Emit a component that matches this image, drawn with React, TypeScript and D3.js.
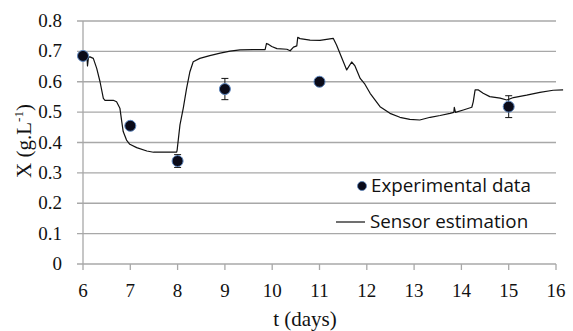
import { line, scaleLinear } from "d3";

const xTicks = [6, 7, 8, 9, 10, 11, 12, 13, 14, 15, 16];
const yTicks = [0, 0.1, 0.2, 0.3, 0.4, 0.5, 0.6, 0.7, 0.8];

const expDays = [6, 7, 8, 9, 11, 15];
const expValues = [0.685, 0.455, 0.339, 0.576, 0.6, 0.518];
const expErrors = [0.01, 0.01, 0.021, 0.035, 0.01, 0.036];

const sensorDays = [
  6.0, 6.085, 6.095, 6.116, 6.148, 6.218, 6.29, 6.36, 6.43, 6.465, 6.64, 6.71, 6.78, 6.82, 6.85, 6.92, 6.99,
  7.135, 7.35, 7.49, 7.63, 7.98, 7.99, 8.05, 8.12, 8.19, 8.26, 8.33, 8.47, 8.68, 8.9, 9.11, 9.32, 9.6, 9.85,
  9.88, 9.91, 9.99, 10.1, 10.31, 10.38, 10.45, 10.52, 10.54, 10.59, 10.8, 11.01, 11.29, 11.36, 11.575, 11.68,
  11.75, 11.86, 11.96, 12.07, 12.28, 12.49, 12.7, 12.91, 13.12, 13.34, 13.55, 13.76, 13.84, 13.85, 13.875,
  14.04, 14.22, 14.25, 14.29, 14.36, 14.46, 14.6, 14.82, 14.96, 15.1, 15.38, 15.66, 15.94, 16.15
];
const sensorValues = [
  0.685, 0.681, 0.652, 0.681, 0.682, 0.677, 0.644, 0.6, 0.545, 0.539, 0.539, 0.534, 0.513, 0.468, 0.436, 0.408,
  0.394, 0.383, 0.372, 0.368, 0.368, 0.368, 0.375, 0.458, 0.513, 0.578, 0.633, 0.666, 0.677, 0.686, 0.694, 0.701,
  0.705, 0.706, 0.706, 0.726, 0.724, 0.716, 0.709, 0.707, 0.702, 0.714, 0.718, 0.746, 0.742, 0.737, 0.736, 0.743,
  0.721, 0.639, 0.665, 0.652, 0.611, 0.592, 0.562, 0.518, 0.496, 0.483, 0.476, 0.474, 0.483, 0.489, 0.496, 0.499,
  0.516, 0.499, 0.507, 0.516, 0.534, 0.573, 0.573, 0.562, 0.551, 0.546, 0.54, 0.548, 0.556, 0.565, 0.572, 0.573
];

const width = 573;
const height = 331;
const margin = { top: 21, right: 17, bottom: 67, left: 83 };
const grid = "#a8a8a8";

export default function App() {
  const x = scaleLinear().domain([6, 16]).range([margin.left, width - margin.right]);
  const y = scaleLinear().domain([0, 0.8]).range([height - margin.bottom, margin.top]);
  const sensorPath =
    line<number>()
      .x((d) => x(d))
      .y((_, i) => y(sensorValues[i]))(sensorDays) ?? "";
  const x0 = x.range()[0];
  const x1 = x.range()[1];
  const y0 = y.range()[0];

  return (
    <svg
      width={width}
      height={height}
      style={{ position: "absolute", left: 0, top: 0, background: "#fff" }}
    >
      {yTicks.map((t) => (
        <g key={t}>
          <line x1={x0 - 6} x2={x1} y1={y(t)} y2={y(t)} stroke={grid} strokeWidth={1.3} />
          <text
            x={62}
            y={y(t) + 6}
            textAnchor="end"
            fontFamily="Liberation Serif"
            fontSize={19}
            fill="#111"
          >
            {t === 0 ? "0" : t.toFixed(1)}
          </text>
        </g>
      ))}
      <line x1={x0} x2={x0} y1={y(0.8)} y2={y0} stroke={grid} strokeWidth={1.3} />
      {xTicks.map((t) => (
        <g key={t}>
          <line x1={x(t)} x2={x(t)} y1={y0} y2={y0 + 6} stroke={grid} strokeWidth={1.3} />
          <text
            x={x(t)}
            y={297}
            textAnchor="middle"
            fontFamily="Liberation Serif"
            fontSize={19}
            fill="#111"
          >
            {t}
          </text>
        </g>
      ))}
      <text x={305} y={326} textAnchor="middle" fontFamily="Liberation Serif" fontSize={21} fill="#111">
        t (days)
      </text>
      <text
        transform={`translate(31, 141) rotate(-90)`}
        textAnchor="middle"
        fontFamily="Liberation Serif"
        fontSize={21}
        fill="#111"
      >
        X (g.L<tspan fontSize={13} dy={-8}>-1</tspan>
        <tspan dy={8}>)</tspan>
      </text>

      <path d={sensorPath} fill="none" stroke="#111" strokeWidth={1.2} strokeLinejoin="round" />

      {expDays.map((d, i) => (
        <g key={d}>
          <line x1={x(d)} x2={x(d)} y1={y(expValues[i] - expErrors[i])} y2={y(expValues[i] + expErrors[i])} stroke="#111" strokeWidth={1} />
          <line x1={x(d) - 3.5} x2={x(d) + 3.5} y1={y(expValues[i] - expErrors[i])} y2={y(expValues[i] - expErrors[i])} stroke="#111" strokeWidth={1} />
          <line x1={x(d) - 3.5} x2={x(d) + 3.5} y1={y(expValues[i] + expErrors[i])} y2={y(expValues[i] + expErrors[i])} stroke="#111" strokeWidth={1} />
          <circle cx={x(d)} cy={y(expValues[i])} r={5.5} fill="#0a0a18" stroke="#5b84bd" strokeWidth={1} />
        </g>
      ))}

      <circle cx={362} cy={186} r={4.5} fill="#0a0a18" stroke="#5b84bd" strokeWidth={0.8} />
      <text x={371} y={192} fontFamily="Open Sans" fontSize={18.8} fill="#111">
        Experimental data
      </text>
      <line x1={336} x2={365} y1={222} y2={222} stroke="#111" strokeWidth={1.2} />
      <text x={370} y={228} fontFamily="Open Sans" fontSize={18.8} fill="#111">
        Sensor estimation
      </text>
    </svg>
  );
}
